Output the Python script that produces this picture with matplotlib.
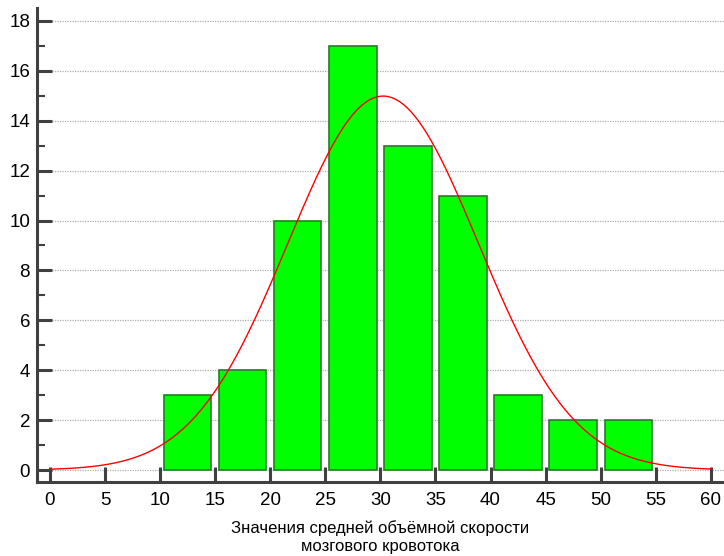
import numpy as np
import matplotlib
matplotlib.use("Agg")
import matplotlib.pyplot as plt

plt.rcParams['font.family'] = ['Liberation Sans', 'DejaVu Sans']

bin_left = [10, 15, 20, 25, 30, 35, 40, 45, 50]
counts = [3, 4, 10, 17, 13, 11, 3, 2, 2]
bin_width = 5
curve_mean = 30.25
curve_sd = 8.65
x_ticks = list(range(0, 61, 5))
y_ticks = list(range(0, 19, 2))
xlabel = "Значения средней объёмной скорости\nмозгового кровотока"

fig = plt.figure(figsize=(7.24, 5.56), dpi=100)
ax = fig.add_axes([37/724, 74/556, (724-37)/724, (482-8)/556])

centers = np.array(bin_left) + bin_width / 2
ax.bar(centers, counts, width=4.3, color='#00ff00', edgecolor='#2a7a2a',
       linewidth=1.2, zorder=2)

n = sum(counts)
xs = np.linspace(0, 60, 400)
ys = n * bin_width * np.exp(-0.5 * ((xs - curve_mean) / curve_sd) ** 2) / (curve_sd * np.sqrt(2 * np.pi))
ax.plot(xs, ys, color='#ff0000', linewidth=1.0, zorder=3)

ax.set_xlim(-1.18, 61.2)
ax.set_ylim(-0.48, 18.52)
ax.set_xticks(x_ticks)
ax.set_yticks(y_ticks)
ax.set_yticks([v + 1 for v in y_ticks[:-1]], minor=True)
for y in y_ticks:
    ax.axhline(y, color='#b0b0b0', linestyle=(0, (1, 1)), linewidth=0.9, zorder=1)

for s in ['top', 'right']:
    ax.spines[s].set_visible(False)
for s in ['left', 'bottom']:
    ax.spines[s].set_color('#404040')
    ax.spines[s].set_linewidth(2.2)

ax.tick_params(axis='both', which='major', direction='in', length=11, width=2.2,
               color='#404040', labelsize=13.5, pad=5)
ax.tick_params(axis='y', which='minor', direction='in', length=6, width=1.5, color='#404040')
ax.tick_params(axis='x', which='major', pad=7)
ax.set_xlabel(xlabel, fontsize=12, labelpad=8, linespacing=1.25)

fig.savefig('out.png', dpi=100)
